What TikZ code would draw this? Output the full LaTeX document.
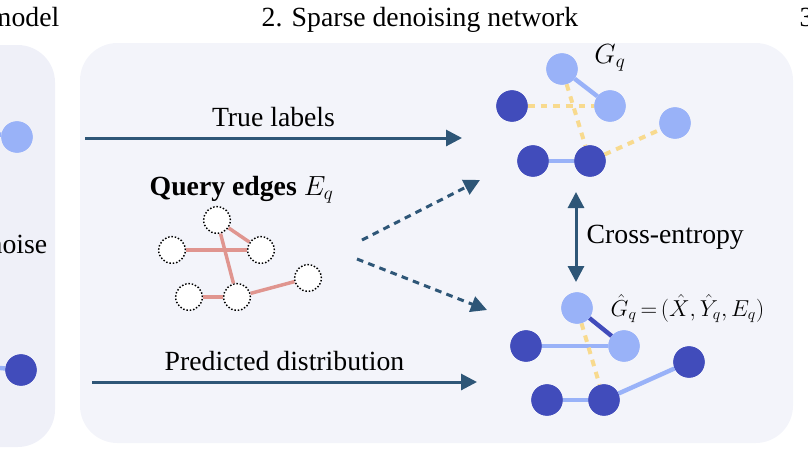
\documentclass[tikz,border=0pt]{standalone}
\usepackage{fontspec}
\setmainfont{Liberation Serif}
\usetikzlibrary{arrows.meta}
\definecolor{darknode}{HTML}{414CBB}
\definecolor{lightnode}{HTML}{99B2F8}
\definecolor{arrowblue}{HTML}{2E5677}
\definecolor{edgeyellow}{HTML}{F8DA8E}
\definecolor{edgepink}{HTML}{E0958F}
\definecolor{panelleft}{HTML}{EFF0F8}
\definecolor{panelmid}{HTML}{F3F4FA}
\begin{document}
\begin{tikzpicture}[x=0.75pt,y=-0.75pt,
    every node/.style={font=\fontsize{20.8}{24}\selectfont},
    dark/.style={circle,fill=darknode,minimum size=23.5pt,inner sep=0pt},
    light/.style={circle,fill=lightnode,minimum size=23.5pt,inner sep=0pt},
    query/.style={circle,draw=black,line width=1.1pt,dash pattern=on 1.1pt off 1.4pt,
      fill=white,minimum size=20pt,inner sep=0pt},
    solidedge/.style={line width=3.3pt,draw=lightnode},
    darkedge/.style={line width=3.3pt,draw=darknode},
    noisyedge/.style={line width=3pt,draw=edgeyellow,dash pattern=on 5pt off 4.5pt},
    queryedge/.style={line width=2.6pt,draw=edgepink},
    flow/.style={line width=2.25pt,draw=arrowblue,-{Triangle[length=12pt,width=12pt]}},
    guess/.style={flow,dash pattern=on 5pt off 4pt}]
  \useasboundingbox (0,0) rectangle (808,455);
  \clip (0,0) rectangle (808,455);
  % panels
  \fill[panelleft,rounded corners=28pt] (-80,45) rectangle (55,447);
  \fill[panelmid,rounded corners=28pt] (80,43) rectangle (793,443);
  % titles
  \node[anchor=base east] (t1) at (64,26) {model};
  \node[anchor=base] (t2) at (420,26) {2. Sparse denoising network};
  \node[anchor=base west] (t3) at (795,26) {3};
  % left panel
  \coordinate (l0) at (-10,133);
  \coordinate (l1) at (-10,367);
  \node[light] (la) at (17,137) {};
  \node[dark] (lb) at (21,370) {};
  \draw[solidedge] (l0) -- (la);
  \draw[solidedge] (l1) -- (lb);
  \foreach \n/\s in {la/light,lb/dark}
    \node[\s] at (\n) {};
  \node[anchor=base east] (noise) at (52,253) {noise};
  % inputs
  \coordinate (tl0) at (85,138);
  \coordinate (tl1) at (462,138);
  \draw[flow] (tl0) -- node[above=4pt] (truelab) {True labels} (tl1);
  \coordinate (pd0) at (92,382);
  \coordinate (pd1) at (477,382);
  \draw[flow] (pd0) -- node[above=4pt] (predlab) {Predicted distribution} (pd1);
  % query edges
  \node[anchor=base west] (qlab) at (145,195) {\textbf{Query edges} $E_q$};
  \node[query] (qa) at (217,220) {};
  \node[query] (qb) at (172,250) {};
  \node[query] (qc) at (261,250) {};
  \node[query] (qd) at (308,278) {};
  \node[query] (qe) at (189,297) {};
  \node[query] (qf) at (237,297) {};
  \draw[queryedge] (qa) -- (qc);
  \draw[queryedge] (qb) -- (qc);
  \draw[queryedge] (qa) -- (qf);
  \draw[queryedge] (qe) -- (qf);
  \draw[queryedge] (qf) -- (qd);
  \coordinate (g0) at (362,240);
  \coordinate (g1) at (480,180);
  \coordinate (g2) at (357,259);
  \coordinate (g3) at (487,310);
  \draw[guess] (g0) -- (g1);
  \draw[guess] (g2) -- (g3);
  % true graph
  \node[light] (ta) at (562,69) {};
  \node[light] (tb) at (610,106) {};
  \node[dark] (tc) at (512,106) {};
  \node[light] (td) at (675,123) {};
  \node[dark] (te) at (533,161) {};
  \node[dark] (tf) at (590,161) {};
  \draw[solidedge] (ta) -- (tb);
  \draw[solidedge] (te) -- (tf);
  \draw[noisyedge] (tc) -- (tb);
  \draw[noisyedge] (ta) -- (tf);
  \draw[noisyedge] (tf) -- (td);
  \foreach \n/\s in {ta/light,tb/light,tc/dark,td/light,te/dark,tf/dark}
    \node[\s] at (\n) {};
  \node (gq) at (610,58) {$G_q$};
  % loss
  \coordinate (ce0) at (576,192);
  \coordinate (ce1) at (576,282);
  \draw[flow,{Triangle[length=12pt,width=12pt]}-{Triangle[length=12pt,width=12pt]}] (ce0) -- (ce1);
  \node[anchor=base west] (celab) at (582,243) {Cross-entropy};
  % predicted graph
  \node[light] (pa) at (577,308) {};
  \node[light] (pb) at (624,346) {};
  \node[dark] (pc) at (526,346) {};
  \node[dark] (pd) at (689,362) {};
  \node[dark] (pe) at (547,400) {};
  \node[dark] (pf) at (604,400) {};
  \draw[darkedge] (pa) -- (pb);
  \draw[solidedge] (pc) -- (pb);
  \draw[noisyedge] (pa) -- (pf);
  \draw[solidedge] (pe) -- (pf);
  \draw[solidedge] (pf) -- (pd);
  \foreach \n/\s in {pa/light,pb/light,pc/dark,pd/dark,pe/dark,pf/dark}
    \node[\s] at (\n) {};
  \node[anchor=base west,font=\fontsize{18.3}{22}\selectfont] (ghat) at (606,316)
    {$\hat{G}_q\,{=}\,(\hat{X},\hat{Y}_q,E_q)$};
\end{tikzpicture}
\end{document}
